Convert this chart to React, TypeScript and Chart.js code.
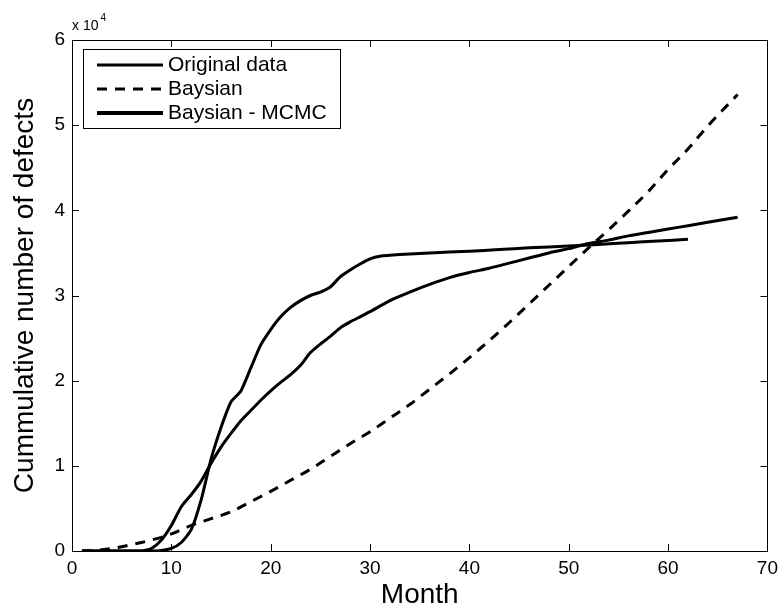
import React, { useEffect, useRef } from "react";
import { Chart, registerables } from "chart.js";

Chart.register(...registerables);

// ---- data ----
const originalMonths = [1, 5, 8, 9, 10, 11, 12, 13, 14, 15, 16, 17, 18, 19, 20, 21, 22, 23, 24, 25, 26, 27, 28, 29, 30, 31, 33, 36, 40, 43, 46, 50, 53, 56, 59, 62];
const originalValues = [0, 0, 0, 50, 300, 1000, 2500, 6000, 10800, 14500, 17500, 18800, 21500, 24200, 26000, 27500, 28600, 29400, 30000, 30400, 31000, 32200, 33000, 33700, 34300, 34600, 34800, 35000, 35200, 35400, 35600, 35800, 36000, 36200, 36400, 36600];

const bayesMonths = [1, 2, 3, 4, 5, 6, 7, 8, 9, 10, 12, 14, 16, 18, 20, 22, 24, 26, 28, 30, 32, 34, 36, 38, 40, 42, 44, 46, 48, 50, 52, 54, 56, 58, 60, 62, 64, 67];
const bayesValues = [0, 50, 150, 300, 500, 750, 1000, 1300, 1600, 2000, 3000, 3800, 4600, 5800, 7000, 8300, 9600, 11100, 12600, 14000, 15600, 17200, 19000, 20800, 22700, 24700, 26800, 29000, 31200, 33400, 35600, 37700, 39900, 42200, 44800, 47200, 49900, 53600];

const mcmcMonths = [1, 7, 8, 9, 10, 11, 12, 13, 14, 15, 16, 17, 18, 19, 20, 21, 22, 23, 24, 25, 26, 27, 28, 29, 30, 32, 34, 36, 38, 40, 42, 44, 46, 48, 50, 52, 54, 56, 58, 60, 62, 64, 67];
const mcmcValues = [0, 0, 300, 1300, 3000, 5200, 6600, 8200, 10300, 12200, 13800, 15300, 16500, 17700, 18800, 19800, 20700, 21800, 23300, 24300, 25200, 26200, 26900, 27500, 28100, 29400, 30400, 31300, 32100, 32700, 33200, 33800, 34400, 35000, 35500, 36100, 36500, 37000, 37400, 37800, 38200, 38600, 39200];

const xTickValues = [0, 10, 20, 30, 40, 50, 60, 70];
const yTickValues = [0, 10000, 20000, 30000, 40000, 50000, 60000];

const seriesLabels = ["Original data", "Baysian", "Baysian - MCMC"];
const xTitle = "Month";
const yTitle = "Cummulative number of defects";

const FONT = "'Liberation Sans', Arial, Helvetica, sans-serif";

const toPoints = (xs: number[], ys: number[]) => xs.map((x, i) => ({ x, y: ys[i] }));

const framePlugin = {
  id: "matlabFrame",
  afterDraw(chart: any) {
    const { ctx, chartArea: a, scales } = chart;
    const xs = scales.x;
    const ys = scales.y;
    ctx.save();
    ctx.strokeStyle = "#000";
    ctx.lineWidth = 1;
    ctx.setLineDash([]);
    ctx.strokeRect(Math.round(a.left) + 0.5, Math.round(a.top) + 0.5, Math.round(a.right - a.left), Math.round(a.bottom - a.top));
    const tl = 7;
    ctx.beginPath();
    for (const v of xTickValues) {
      const px = Math.round(xs.getPixelForValue(v)) + 0.5;
      ctx.moveTo(px, a.bottom);
      ctx.lineTo(px, a.bottom - tl);
      ctx.moveTo(px, a.top);
      ctx.lineTo(px, a.top + tl);
    }
    for (const v of yTickValues) {
      const py = Math.round(ys.getPixelForValue(v)) + 0.5;
      ctx.moveTo(a.left, py);
      ctx.lineTo(a.left + tl, py);
      ctx.moveTo(a.right, py);
      ctx.lineTo(a.right - tl, py);
    }
    ctx.stroke();

    // exponent label
    ctx.fillStyle = "#000";
    ctx.textBaseline = "alphabetic";
    ctx.textAlign = "left";
    ctx.font = `14px ${FONT}`;
    ctx.fillText("x 10", a.left, a.top - 10);
    const w = ctx.measureText("x 10").width;
    ctx.font = `10px ${FONT}`;
    ctx.fillText("4", a.left + 2 + w, a.top - 19);

    // legend
    const lx = a.left + 11;
    const ly = a.top + 9;
    const lw = 257;
    const lh = 79;
    ctx.fillStyle = "#fff";
    ctx.fillRect(lx, ly, lw, lh);
    ctx.strokeStyle = "#000";
    ctx.lineWidth = 1;
    ctx.strokeRect(lx + 0.5, ly + 0.5, lw, lh);
    const rows = [ly + 16, ly + 40, ly + 64];
    chart.data.datasets.forEach((ds: any, i: number) => {
      const yy = rows[i];
      ctx.beginPath();
      ctx.lineWidth = i === 2 ? 4 : 3;
      ctx.setLineDash(ds.borderDash || []);
      ctx.strokeStyle = "#000";
      ctx.moveTo(lx + 14, yy);
      ctx.lineTo(lx + 80, yy);
      ctx.stroke();
      ctx.setLineDash([]);
      ctx.fillStyle = "#000";
      ctx.font = `21px ${FONT}`;
      ctx.textBaseline = "middle";
      ctx.textAlign = "left";
      ctx.fillText(ds.label, lx + 85, yy);
    });
    ctx.restore();
  },
};

export default function App() {
  const ref = useRef<HTMLCanvasElement | null>(null);
  useEffect(() => {
    if (!ref.current) return;
    const chart = new Chart(ref.current, {
      type: "line",
      data: {
        datasets: [
          {
            label: seriesLabels[0],
            data: toPoints(originalMonths, originalValues),
            borderColor: "#000",
            borderWidth: 3,
            pointRadius: 0,
            tension: 0.2,
            fill: false,
          },
          {
            label: seriesLabels[1],
            data: toPoints(bayesMonths, bayesValues),
            borderColor: "#000",
            borderWidth: 3,
            borderDash: [10, 8],
            pointRadius: 0,
            cubicInterpolationMode: "monotone",
            fill: false,
          },
          {
            label: seriesLabels[2],
            data: toPoints(mcmcMonths, mcmcValues),
            borderColor: "#000",
            borderWidth: 3,
            pointRadius: 0,
            tension: 0.2,
            fill: false,
          },
        ],
      },
      options: {
        responsive: false,
        animation: false,
        layout: { padding: { top: 40, right: 12, left: 0, bottom: 0 } },
        plugins: { legend: { display: false }, tooltip: { enabled: false } },
        scales: {
          x: {
            type: "linear",
            min: 0,
            max: 70,
            ticks: { stepSize: 10, padding: 6, color: "#000", font: { family: FONT, size: 19 } },
            grid: { display: false, drawTicks: false },
            border: { display: false },
            title: { display: true, text: xTitle, color: "#000", font: { family: FONT, size: 28 }, padding: { top: 0, bottom: 2 } },
            afterFit: (s: any) => {
              s.height = 63;
            },
          },
          y: {
            type: "linear",
            min: 0,
            max: 60000,
            ticks: {
              stepSize: 10000,
              padding: 7,
              color: "#000",
              font: { family: FONT, size: 19 },
              callback: (v: any) => String(Number(v) / 10000),
            },
            grid: { display: false, drawTicks: false },
            border: { display: false },
            title: { display: true, text: yTitle, color: "#000", font: { family: FONT, size: 28 }, padding: { top: 8, bottom: 0 } },
            afterFit: (s: any) => {
              s.width = 72;
            },
          },
        },
      },
      plugins: [framePlugin],
    });
    return () => chart.destroy();
  }, []);
  return (
    <canvas
      ref={ref}
      width={784}
      height={614}
      style={{ position: "fixed", left: 0, top: 0, width: 784, height: 614, background: "#fff" }}
    />
  );
}
